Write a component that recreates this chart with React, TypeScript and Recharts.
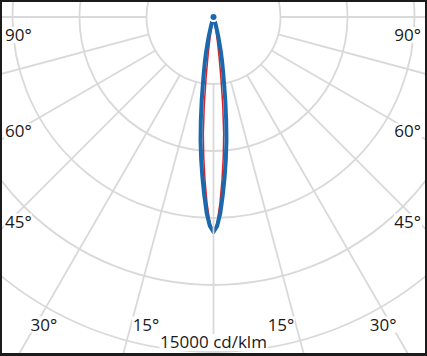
import { RadarChart, Radar, PolarGrid, PolarAngleAxis, PolarRadiusAxis } from "recharts"

const W = 427
const H = 356
const CX = 213.5
const CY = 17

// gamma in degrees from nadir (negative = left half)
const angles = [
  -20, -18, -16, -14, -13, -12, -11, -10, -9, -8, -7, -6, -5, -4, -3, -2, -1, 0, 1, 2, 3, 4, 5, 6, 7, 8, 9, 10, 11,
  12, 13, 14, 16, 18, 20,
]
// C0-C180 plane (red), cd/klm
const planeC0 = [
  0, 0, 0, 0, 90, 220, 400, 670, 1160, 1790, 2690, 3940, 5240, 6270, 7300, 8330, 9220, 9630, 9220, 8330, 7300, 6270,
  5240, 3940, 2690, 1790, 1160, 670, 400, 220, 90, 0, 0, 0, 0,
]
// C90-C270 plane (blue), cd/klm
const planeC90 = [
  0, 130, 360, 850, 1160, 1570, 2010, 2460, 3040, 3810, 4660, 5550, 6360, 7160, 7970, 8780, 9360, 9630, 9360, 8780,
  7970, 7160, 6360, 5550, 4660, 3810, 3040, 2460, 2010, 1570, 1160, 850, 360, 130, 0,
]

const radiusTicks = [3000, 6000, 9000, 12000, 15000, 18000]
const angleTicks = [
  -165, -150, -135, -120, -105, -90, -75, -60, -45, -30, -15, 0, 15, 30, 45, 60, 75, 90, 105, 120, 135, 150, 165, 180,
]
const labeledAngles = [15, 30, 45, 60, 90]
const scaleValue = 15000
const unit = "cd/klm"

const data = angles.map((angle, i) => ({ angle, c0: planeC0[i], c90: planeC90[i] }))

const FONT = "'Open Sans', sans-serif"
const GRID = "#d9d9d9"

// angle labels sit against the frame where each ray leaves the chart
const AngleTick = (props: any) => {
  const g = props.payload?.value as number
  const a = Math.abs(g)
  if (!labeledAngles.includes(a)) return null
  const right = g > 0
  const t = (a * Math.PI) / 180
  let x: number
  let y: number
  let anchor: "start" | "end" | "middle"
  if (a >= 45) {
    const edgeY = a === 90 ? CY : CY + CX / Math.tan(t)
    y = a === 90 ? edgeY + 24 : edgeY - 3
    x = right ? W - 6 : 5
    anchor = right ? "end" : "start"
  } else {
    // bottom row, nudged toward the nadir
    const off = (323 - CY) * Math.tan(t) - (22 - a / 2)
    x = right ? CX + off : CX - off
    y = 330.5
    anchor = "middle"
  }
  const bw = 28
  const bx = anchor === "start" ? x - 1 : anchor === "end" ? x - bw + 1 : x - bw / 2
  return (
    <g>
      <rect x={bx} y={y - 14} width={bw} height={16} fill="#fff" />
      <text x={x} y={y} textAnchor={anchor} fontSize={17} fill="#1a1a1a" fontFamily={FONT}>
        {a}°
      </text>
    </g>
  )
}

const RadiusTick = (props: any) => {
  const { x, y, payload } = props
  if (payload?.value !== scaleValue) return null
  return (
    <g>
      <rect x={x - 54} y={y - 18} width={108} height={17} fill="#fff" />
      <text x={x} y={y - 4} textAnchor="middle" fontSize={17} fill="#1a1a1a" fontFamily={FONT}>
        {`${payload.value} ${unit}`}
      </text>
    </g>
  )
}

const App = () => {
  return (
    <div style={{ position: "fixed", left: 0, top: 0, width: W, height: H, background: "#fff" }}>
      <RadarChart
        width={W}
        height={H}
        data={data}
        cx={CX}
        cy={CY}
        innerRadius={0}
        outerRadius={402}
        startAngle={-270}
        endAngle={90}
        margin={{ top: 0, right: 0, bottom: 0, left: 0 }}
      >
        <PolarGrid gridType="circle" radialLines={false} stroke={GRID} strokeWidth={1.8} />
        <PolarAngleAxis
          dataKey="angle"
          type="number"
          domain={[-180, 180]}
          ticks={angleTicks}
          axisLine={false}
          orientation="inner"
          tickSize={335}
          tickLine={{ stroke: GRID, strokeWidth: 1.8 }}
          tick={AngleTick}
        />
        <PolarRadiusAxis
          angle={-90}
          domain={[0, 18000]}
          ticks={radiusTicks}
          axisLine={false}
          tick={RadiusTick}
        />
        <Radar
          dataKey="c0"
          stroke="#d8232a"
          strokeWidth={1.5}
          fill="none"
          strokeLinejoin="round"
          dot={false}
          isAnimationActive={false}
        />
        <Radar
          dataKey="c90"
          stroke="#1c68ad"
          strokeWidth={4}
          fill="none"
          strokeLinejoin="round"
          dot={false}
          isAnimationActive={false}
        />
      </RadarChart>
      <div
        style={{
          position: "absolute",
          inset: 0,
          boxSizing: "border-box",
          borderStyle: "solid",
          borderColor: "#1b1b1b",
          borderWidth: "2px 2px 3px 2px",
          pointerEvents: "none",
        }}
      />
    </div>
  )
}

export default App
